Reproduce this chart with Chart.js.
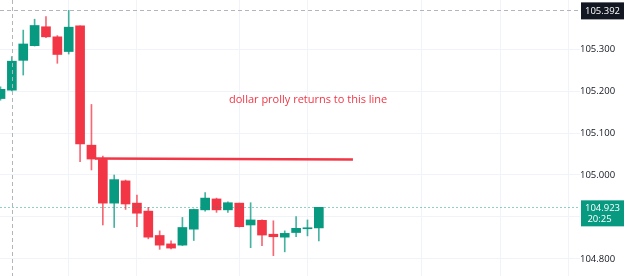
<!DOCTYPE html>
<html><head><meta charset="utf-8">
<script src="https://cdn.jsdelivr.net/npm/chart.js@4.4.1/dist/chart.umd.min.js"></script>
<style>html,body{margin:0;padding:0;background:#fff;}#wrap{width:625px;height:276px;position:relative;}</style>
</head><body><div id="wrap"><canvas id="c"></canvas></div>
<script>
// ---- data ----
const candleIndex = [0,1,2,3,4,5,6,7,8,9,10,11,12,13,14,15,16,17,18,19,20,21,22,23,24,25,26,27,28];
const opens  = [105.182,105.202,105.273,105.308,105.353,105.329,105.294,105.355,105.071,105.037,104.933,104.986,104.933,104.914,104.856,104.836,104.833,104.871,104.917,104.943,104.917,104.933,104.881,104.892,104.859,104.852,104.863,104.872,104.874];
const highs  = [105.210,105.282,105.345,105.371,105.377,105.332,105.392,105.355,105.168,105.045,105.000,104.988,104.952,104.923,104.867,104.843,104.899,104.919,104.958,104.945,104.936,104.933,104.934,104.893,104.891,104.867,104.901,104.893,104.923];
const lows   = [105.178,105.200,105.238,105.307,105.327,105.266,105.288,105.032,105.012,104.881,104.875,104.918,104.877,104.848,104.823,104.824,104.832,104.844,104.914,104.911,104.911,104.876,104.827,104.832,104.808,104.817,104.853,104.855,104.843];
const closes = [105.204,105.271,105.312,105.356,105.329,105.287,105.352,105.074,105.038,104.933,104.989,104.931,104.909,104.852,104.833,104.826,104.875,104.918,104.945,104.917,104.934,104.877,104.893,104.857,104.853,104.861,104.873,104.873,104.923];
const yTicks = [104.8,104.9,105.0,105.1,105.2,105.3];
const hiddenTickLabels = [104.9];
const xGridIdx = [6,12,21,27,37,44,50];
const levelLineX = [8.31, 31.0];
const levelLineY = [105.0393, 105.0367];
const noteText = 'dollar prolly returns to this line';
const notePosX = 20.1, notePosY = 105.1786;
const crosshairX = 1, crosshairPrice = 105.392;
const lastPrice = 104.923;
const countdown = '20:25';

// ---- style ----
const UP = '#089981', DOWN = '#f23645', GRID = '#f0f3fa', TXT = '#131722';
const colors = candleIndex.map((_, i) => closes[i] >= opens[i] ? UP : DOWN);
const wickColors = candleIndex.map((_, i) => closes[i] >= opens[i] ? 'rgba(8,153,129,0.75)' : 'rgba(242,54,69,0.75)');

const overlay = {
  id: 'overlay',
  afterDatasetsDraw(chart) {
    const {ctx, chartArea: a, scales: {x, y}} = chart;
    ctx.save();
    // last price dotted line
    const ly = Math.round(y.getPixelForValue(lastPrice)) + 0.5;
    ctx.strokeStyle = 'rgba(8,153,129,0.45)'; ctx.lineWidth = 1; ctx.setLineDash([2, 2]);
    ctx.beginPath(); ctx.moveTo(a.left, ly); ctx.lineTo(a.right, ly); ctx.stroke();
    // crosshair
    ctx.strokeStyle = '#b2b5be'; ctx.setLineDash([4, 3]);
    const cy = Math.round(y.getPixelForValue(crosshairPrice)) + 0.5;
    const cx = Math.round(x.getPixelForValue(crosshairX)) + 0.5;
    ctx.beginPath(); ctx.moveTo(a.left, cy); ctx.lineTo(a.right, cy); ctx.stroke();
    ctx.beginPath(); ctx.moveTo(cx, a.top); ctx.lineTo(cx, a.bottom); ctx.stroke();
    ctx.setLineDash([]);
    // note text
    ctx.fillStyle = DOWN; ctx.font = '11px "Open Sans"'; ctx.textBaseline = 'middle'; ctx.textAlign = 'left';
    ctx.fillText(noteText, x.getPixelForValue(notePosX), y.getPixelForValue(notePosY));
    ctx.restore();
  },
  afterDraw(chart) {
    const {ctx, chartArea: a, scales: {y}, width} = chart;
    ctx.save();
    const bx = a.right + 1, bw = width - a.right - 2;
    // crosshair price label
    const cy = y.getPixelForValue(crosshairPrice);
    ctx.fillStyle = TXT; ctx.fillRect(bx, cy - 8, bw, 17);
    ctx.fillStyle = '#fff'; ctx.font = '9.5px "Open Sans"'; ctx.textAlign = 'center'; ctx.textBaseline = 'middle';
    ctx.fillText(crosshairPrice.toFixed(3), bx + bw / 2, cy + 0.5);
    // last price label
    const ly = y.getPixelForValue(lastPrice);
    ctx.fillStyle = UP; ctx.fillRect(bx, ly - 7, bw, 26);
    ctx.fillStyle = '#fff';
    ctx.fillText(lastPrice.toFixed(3), bx + bw / 2, ly + 0.5);
    ctx.fillText(countdown, bx + bw / 2 - 3, ly + 12);
    ctx.restore();
  }
};

new Chart(document.getElementById('c'), {
  type: 'bar',
  data: {
    datasets: [
      { type: 'line', data: levelLineX.map((v, i) => ({x: v, y: levelLineY[i]})), borderColor: DOWN, borderWidth: 2.5,
        pointRadius: 0, fill: false, order: 0 },
      { data: candleIndex.map(i => ({x: i, y: [opens[i], closes[i]]})), backgroundColor: colors,
        barThickness: 9, minBarLength: 1, grouped: false, borderWidth: 0, order: 1 },
      { data: candleIndex.map(i => ({x: i, y: [lows[i], highs[i]]})), backgroundColor: wickColors,
        barThickness: 1, grouped: false, borderWidth: 0, order: 2 }
    ]
  },
  options: {
    responsive: true, maintainAspectRatio: false, animation: false,
    layout: { padding: 0 },
    plugins: { legend: { display: false }, tooltip: { enabled: false } },
    scales: {
      x: {
        type: 'linear', min: -0.044, max: 50.97, offset: false,
        afterBuildTicks: s => { s.ticks = xGridIdx.map(v => ({value: v})); },
        afterFit: s => { s.height = 0; s.paddingLeft = 0; s.paddingRight = 0; },
        ticks: { display: false },
        grid: { color: GRID, drawTicks: false, offset: false }, border: { display: false }
      },
      y: {
        position: 'right', min: 104.7595, max: 105.4167,
        afterBuildTicks: s => { s.ticks = yTicks.map(v => ({value: v})); },
        afterFit: s => { s.width = 45; s.paddingTop = 0; s.paddingBottom = 0; },
        ticks: {
          callback: v => hiddenTickLabels.includes(v) ? '' : v.toFixed(3),
          crossAlign: 'center', color: TXT, padding: 0, font: { family: '"Open Sans"', size: 9.5 }
        },
        grid: { color: GRID, drawTicks: false }, border: { display: false }
      }
    }
  },
  plugins: [overlay]
});
</script></body></html>
